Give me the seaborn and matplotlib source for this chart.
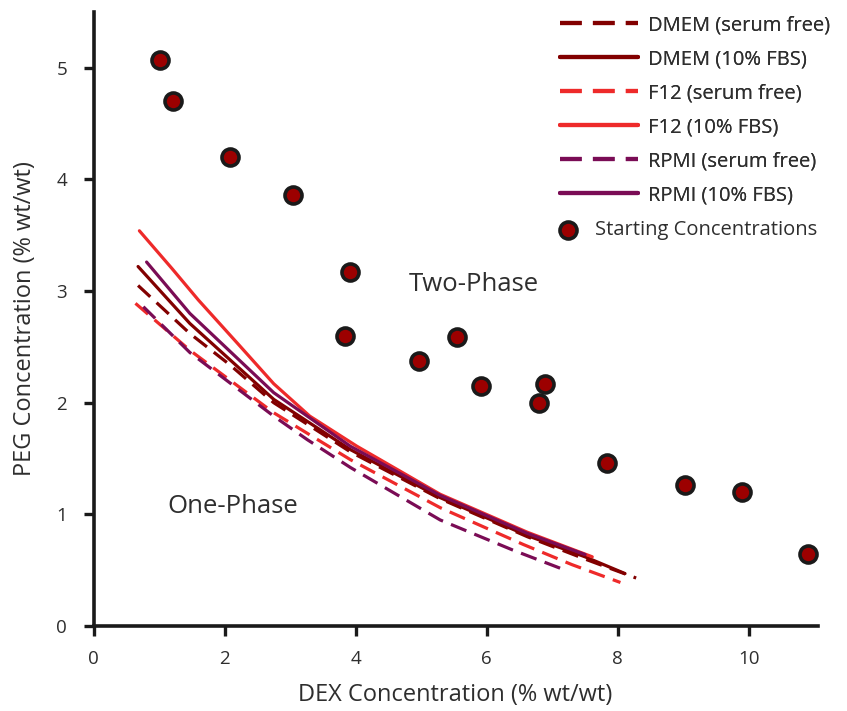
import matplotlib
matplotlib.use("Agg")
import matplotlib.pyplot as plt
import seaborn as sns
import pandas as pd

# ---- data ----
start_dex = [1.02, 1.21, 2.08, 3.04, 3.92, 3.84, 4.97, 5.55, 5.92, 6.89, 6.80, 7.84, 9.02, 9.90, 10.90]
start_peg = [5.07, 4.70, 4.20, 3.86, 3.17, 2.60, 2.37, 2.59, 2.15, 2.17, 2.00, 1.46, 1.26, 1.20, 0.645]

dmem_sf_x = [0.68, 1.47, 2.08, 2.75, 3.92, 5.29, 6.62, 7.50, 8.28]
dmem_sf_y = [3.05, 2.62, 2.34, 2.00, 1.56, 1.14, 0.80, 0.60, 0.43]
dmem_fbs_x = [0.68, 1.47, 2.75, 3.92, 5.29, 6.62, 7.50, 8.11]
dmem_fbs_y = [3.22, 2.71, 2.03, 1.58, 1.15, 0.81, 0.62, 0.47]
f12_sf_x = [0.64, 1.47, 2.75, 3.92, 5.29, 6.56, 7.30, 8.04]
f12_sf_y = [2.89, 2.47, 1.91, 1.49, 1.06, 0.73, 0.55, 0.39]
f12_fbs_x = [0.70, 1.20, 1.60, 2.20, 2.75, 3.30, 4.02, 5.29, 6.62, 7.61]
f12_fbs_y = [3.54, 3.20, 2.92, 2.53, 2.17, 1.88, 1.61, 1.18, 0.84, 0.62]
rpmi_sf_x = [0.76, 1.47, 2.75, 3.26, 3.92, 5.29, 6.40, 7.20]
rpmi_sf_y = [2.86, 2.45, 1.88, 1.67, 1.42, 0.95, 0.68, 0.50]
rpmi_fbs_x = [0.81, 1.47, 2.75, 3.92, 5.29, 6.62, 7.50]
rpmi_fbs_y = [3.26, 2.80, 2.09, 1.61, 1.17, 0.83, 0.64]

series_labels = ["DMEM (serum free)", "DMEM (10% FBS)", "F12 (serum free)",
                 "F12 (10% FBS)", "RPMI (serum free)", "RPMI (10% FBS)"]
x_ticks = [0, 2, 4, 6, 8, 10]
y_ticks = [0, 1, 2, 3, 4, 5]

# ---- style ----
sns.set_theme(style="white")
plt.rcParams['font.family'] = ['Open Sans', 'DejaVu Sans']

DMEM_C = "#820000"
F12_C = "#ee2a2a"
RPMI_C = "#7a0c55"
TXT = "#2e2e2e"
dash = (5.2, 2.7)

series = [
    (dmem_sf_x, dmem_sf_y, DMEM_C, True),
    (dmem_fbs_x, dmem_fbs_y, DMEM_C, False),
    (f12_sf_x, f12_sf_y, F12_C, True),
    (f12_fbs_x, f12_fbs_y, F12_C, False),
    (rpmi_sf_x, rpmi_sf_y, RPMI_C, True),
    (rpmi_fbs_x, rpmi_fbs_y, RPMI_C, False),
]

fig = plt.figure(figsize=(8.47, 7.11), dpi=100)
ax = fig.add_axes([0.1104, 0.1195, 0.855, 0.8637])

for (xs, ys, c, dashed), lab in zip(series, series_labels):
    df = pd.DataFrame({"x": xs, "y": ys})
    sns.lineplot(data=df, x="x", y="y", ax=ax, color=c, linewidth=2.3,
                 sort=False, estimator=None, label=lab)
    ln = ax.lines[-1]
    ln.set_solid_joinstyle("round")
    if dashed:
        ln.set_dashes(dash)
        ln.set_dash_capstyle("butt")

sdf = pd.DataFrame({"x": start_dex, "y": start_peg})
sns.scatterplot(data=sdf, x="x", y="y", ax=ax, color="#9c0000", s=150,
                edgecolor="#1a1a1a", linewidth=2.6, zorder=5, clip_on=False,
                label="Starting Concentrations")

ax.set_xlim(0, 11.05)
ax.set_ylim(0, 5.5)
ax.set_xticks(x_ticks)
ax.set_yticks(y_ticks)
ax.set_xticklabels([str(t) for t in x_ticks])
ax.set_yticklabels([str(t) for t in y_ticks])
sns.despine(ax=ax)
for s in ["left", "bottom"]:
    ax.spines[s].set_color("#1a1a1a")
    ax.spines[s].set_linewidth(2.6)
ax.tick_params(axis="both", which="major", direction="out", length=7, width=2.4,
               color="#1a1a1a", labelsize=13.5, labelcolor=TXT,
               left=True, bottom=True)
ax.tick_params(axis="x", pad=10)
ax.tick_params(axis="y", pad=12)

ax.set_xlabel("DEX Concentration (% wt/wt)", fontsize=17, color=TXT, labelpad=11)
ax.set_ylabel("PEG Concentration (% wt/wt)", fontsize=17, color=TXT, labelpad=14)

ax.text(5.81, 3.06, "Two-Phase", fontsize=18.5, color=TXT, ha="center", va="center")
ax.text(2.13, 1.07, "One-Phase", fontsize=18.5, color=TXT, ha="center", va="center")

handles, labels = ax.get_legend_handles_labels()
if ax.get_legend() is not None:
    ax.get_legend().remove()
leg1 = fig.legend(handles[:6], labels[:6], loc="upper left",
                  bbox_to_anchor=(560 / 847, 1 - 15 / 711), bbox_transform=fig.transFigure,
                  frameon=False, fontsize=14.5, handlelength=3.85, handletextpad=0.5,
                  labelspacing=0.7, labelcolor=TXT, borderpad=0, borderaxespad=0)
for h in leg1.get_lines():
    h.set_linewidth(3.0)
leg2 = fig.legend(handles[6:], labels[6:], loc="upper left",
                  bbox_to_anchor=(560 / 847, 1 - 220 / 711), bbox_transform=fig.transFigure,
                  frameon=False, fontsize=14.5, handlelength=0.8, handletextpad=0.95,
                  labelcolor=TXT, borderpad=0, borderaxespad=0, markerscale=1.0)
fig.add_artist(leg1)

fig.savefig("out.png", dpi=100)
